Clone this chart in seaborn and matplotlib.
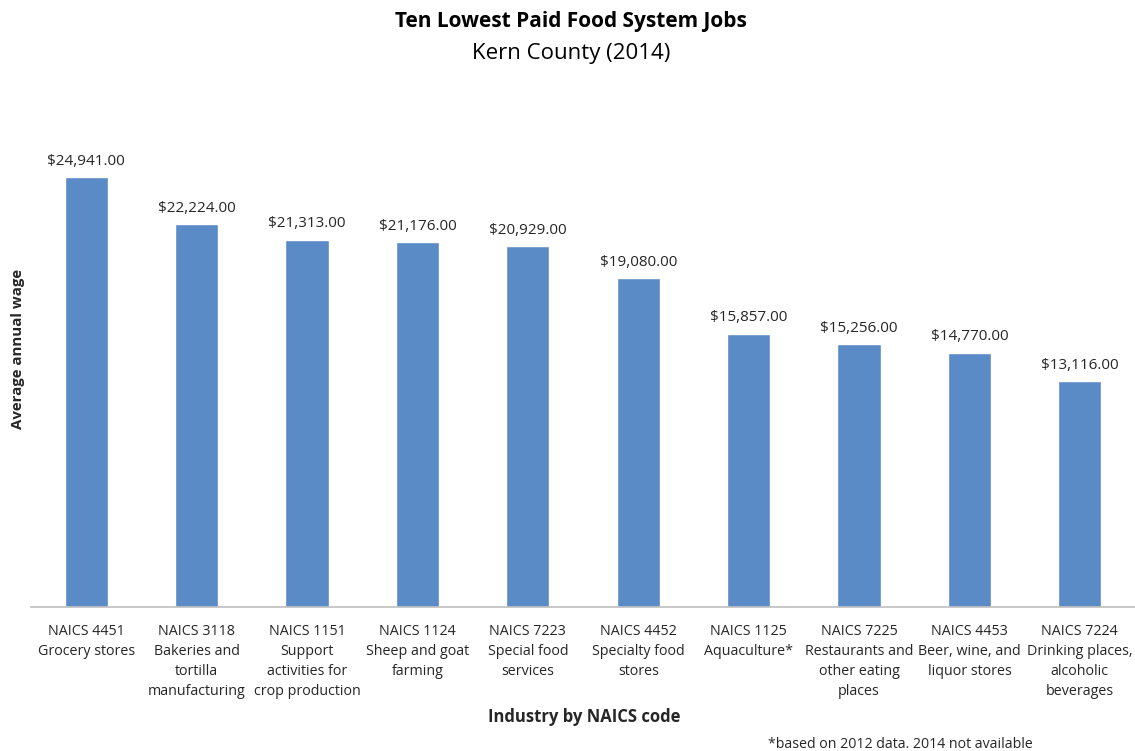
import pandas as pd
import matplotlib.pyplot as plt
import seaborn as sns

# Ten lowest paid food system jobs, Kern County (2014)
codes = ["NAICS 4451", "NAICS 3118", "NAICS 1151", "NAICS 1124", "NAICS 7223",
         "NAICS 4452", "NAICS 1125", "NAICS 7225", "NAICS 4453", "NAICS 7224"]
names = ["Grocery stores", "Bakeries and\ntortilla\nmanufacturing",
         "Support\nactivities for\ncrop production", "Sheep and goat\nfarming",
         "Special food\nservices", "Specialty food\nstores", "Aquaculture*",
         "Restaurants and\nother eating\nplaces", "Beer, wine, and\nliquor stores",
         "Drinking places,\nalcoholic\nbeverages"]
wages = [24941, 22224, 21313, 21176, 20929, 19080, 15857, 15256, 14770, 13116]

df = pd.DataFrame({"industry": [c + "\n" + n for c, n in zip(codes, names)],
                   "wage": wages})

sns.set_theme(style="white")
plt.rcParams["font.family"] = ["Open Sans", "DejaVu Sans"]

fig = plt.figure(figsize=(11.35, 7.51), dpi=100)
ax = fig.add_axes([0.0273, 0.1917, 0.9727, 0.6883])

sns.barplot(data=df, x="industry", y="wage", color="#5B8BC6", width=0.39,
            saturation=1, ax=ax)

ax.set_ylim(0, 30000)
ax.set_xlim(-0.5, 9.5)
ax.set_yticks([])
for s in ["top", "right", "left"]:
    ax.spines[s].set_visible(False)
ax.spines["bottom"].set_color("#BFBFBF")
ax.spines["bottom"].set_linewidth(1.2)
ax.tick_params(axis="x", length=0, pad=12, labelsize=10.3, colors="#262626")
for lbl in ax.get_xticklabels():
    lbl.set_linespacing(1.45)

for i, v in enumerate(wages):
    ax.annotate(f"${v:,.2f}", (i, v), xytext=(0, 6), textcoords="offset points",
                ha="center", va="bottom", fontsize=11, color="#262626")

ax.set_xlabel("")
ax.set_ylabel("")
fig.text(0.016, 0.535, "Average annual wage", rotation=90, ha="center", va="center",
         fontsize=10.8, fontweight="bold", color="#262626")
fig.text(0.515, 0.045, "Industry by NAICS code", ha="center", va="center",
         fontsize=12, fontweight="bold", color="#262626")
fig.text(0.793, 0.009, "*based on 2012 data. 2014 not available", ha="center",
         va="center", fontsize=10.2, color="#262626")
fig.text(0.503, 0.971, "Ten Lowest Paid Food System Jobs", ha="center", va="center",
         fontsize=15, fontweight="bold", color="black")
fig.text(0.503, 0.929, "Kern County (2014)", ha="center", va="center",
         fontsize=16, color="black")

fig.savefig("out.png", dpi=100)
